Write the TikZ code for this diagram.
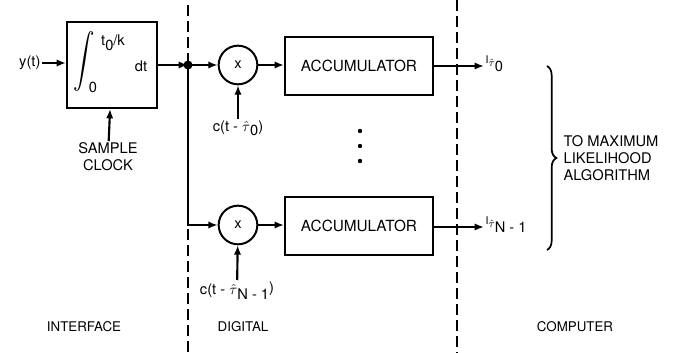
\documentclass[tikz,border=0pt]{standalone}
\usepackage{fontspec}
\setmainfont{TeX Gyre Heros}
\usepackage{amsmath}
\usepackage{graphicx}
\usetikzlibrary{arrows.meta,positioning,decorations.pathreplacing}
\tikzset{
  blockbox/.style={
    rectangle, draw, line width=1.5pt,
    font=\fontsize{11.5}{13}\selectfont, inner sep=2pt
  },
  mixer/.style={
    circle, draw, line width=1.5pt, minimum size=29pt, inner sep=0pt,
    font=\fontsize{11}{13}\selectfont
  },
  sigarrow/.style={-{Latex[length=7pt,width=5.5pt]}, line width=1.6pt},
  siglabel/.style={font=\fontsize{11}{13}\selectfont, inner sep=1pt},
  zonelabel/.style={font=\fontsize{10}{12}\selectfont},
  boundary/.style={line width=1.4pt, dash pattern=on 8pt off 4pt},
}
% estimate symbol with a dropped subscript
\newcommand{\esttau}[1]{$\hat{\tau}$\raisebox{-3.5pt}{#1}}

\begin{document}
\begin{tikzpicture}[x=0.75pt,y=-0.75pt]
  \useasboundingbox (0,0) rectangle (693,353);

  % Section boundaries
  \draw[boundary] (188,5) -- (188,353);
  \draw[boundary] (457,0) -- (457,353);

  % Integrate-and-dump front end
  \node[blockbox, minimum width=67.5pt, minimum height=64.5pt] (integ) at (112,65) {};
  \node[inner sep=0pt] (intsign) at (84,62)
    {\resizebox*{16pt}{45pt}{$\displaystyle\int$}};
  \node[siglabel] (uplim) at (113,43) {t\raisebox{-3.5pt}{0}/k};
  \node[siglabel] (lowlim) at (93,87) {0};
  \node[siglabel] (dt) at (141,66) {dt};
  \node[siglabel, anchor=east] (yin) at (42,63) {y(t)};
  \node[siglabel, align=center, anchor=north] (clock) at (108,141) {SAMPLE\\CLOCK};
  \fill (188,65) circle (4.5) coordinate (jn);

  % Correlator branches
  \node[mixer] (mix1) at (238,65) {x};
  \node[mixer] (mix2) at (238,225) {x};
  \node[blockbox, minimum width=111pt, minimum height=43pt] (acc1) at (359,66) {ACCUMULATOR};
  \node[blockbox, minimum width=111pt, minimum height=43pt] (acc2) at (359,226) {ACCUMULATOR};
  \node[siglabel, anchor=north] (ref1) at (238,119) {c(t - \esttau{0})};
  \node[siglabel, anchor=north] (ref2) at (237,280) {c(t - \esttau{N - 1}\raisebox{2pt}{)}};
  \foreach \yy in {131,146,161}
    \fill (360,\yy) circle (2.2);

  % Outputs to the computer
  \node[siglabel, anchor=west] (out1) at (484,64)
    {{\fontsize{8}{9}\selectfont I}\raisebox{-2pt}{$\scriptstyle\hat{\tau}$}\raisebox{-6pt}{0}};
  \node[siglabel, anchor=west] (out2) at (484,225)
    {{\fontsize{8}{9}\selectfont I}\raisebox{-2pt}{$\scriptstyle\hat{\tau}$}\raisebox{-6pt}{N - 1}};
  \draw[decorate, decoration={brace, amplitude=7pt}, line width=1.3pt]
    (547,66) -- (547,250) node[midway] (bracetip) {};
  \node[siglabel, anchor=west, align=left] (mla) at (562,158)
    {TO MAXIMUM\\LIKELIHOOD\\ALGORITHM};

  % Signal flow
  \draw[sigarrow] (yin) -- (integ.west |- yin);
  \draw[sigarrow] (clock) -- (integ);
  \draw[sigarrow] (integ.east) -- (jn);
  \draw[sigarrow] (jn) -- (mix1);
  \draw[sigarrow] (jn) |- (mix2);
  \draw[sigarrow] (ref1) -- (mix1);
  \draw[sigarrow] (ref2) -- (mix2);
  \draw[sigarrow] (mix1) -- (acc1.west |- mix1);
  \draw[sigarrow] (mix2) -- (acc2.west |- mix2);
  \draw[sigarrow] (acc1.east |- 0,66) -- (out1.west |- 0,66);
  \draw[sigarrow] (acc2.east |- 0,227) -- (out2.west |- 0,227);

  % Section names
  \node[zonelabel] (ifc) at (84,327) {INTERFACE};
  \node[zonelabel] (dig) at (243,327) {DIGITAL};
  \node[zonelabel] (cmp) at (575,327) {COMPUTER};
\end{tikzpicture}
\end{document}
